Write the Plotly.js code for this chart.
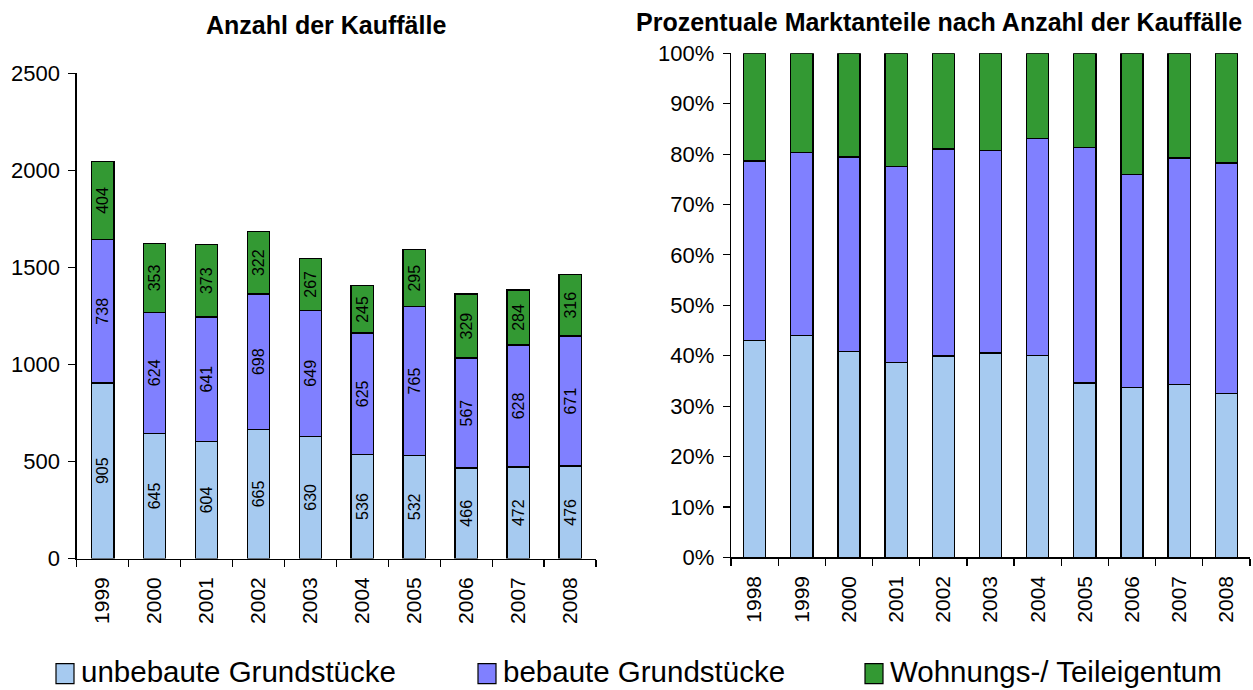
<!DOCTYPE html>
<html>
<head>
<meta charset="utf-8">
<script src="https://cdn.plot.ly/plotly-3.0.1.min.js"></script>
<style>
html,body{margin:0;padding:0;background:#fff;}
#chart{width:1253px;height:690px;}
</style>
</head>
<body>
<div id="chart"></div>
<script>
// ---- data ----
const yearsLeft = ['1999','2000','2001','2002','2003','2004','2005','2006','2007','2008'];
const unbebaut = [905, 645, 604, 665, 630, 536, 532, 466, 472, 476];
const bebaut   = [738, 624, 641, 698, 649, 625, 765, 567, 628, 671];
const wohnung  = [404, 353, 373, 322, 267, 245, 295, 329, 284, 316];

const yearsRight = ['1998','1999','2000','2001','2002','2003','2004','2005','2006','2007','2008'];
const pctUnbebaut = [43.0, 44.0, 40.8, 38.6, 39.9, 40.5, 40.0, 34.6, 33.7, 34.3, 32.5];
const pctBebaut   = [35.6, 36.3, 38.6, 39.0, 41.1, 40.2, 43.1, 46.7, 42.3, 44.9, 45.7];
const pctWohnung  = [21.4, 19.7, 20.6, 22.4, 19.0, 19.3, 16.9, 18.7, 24.0, 20.8, 21.8];

const seriesNames = ['unbebaute Grundstücke', 'bebaute Grundstücke', 'Wohnungs-/ Teileigentum'];
const titleLeft = 'Anzahl der Kauffälle';
const titleRight = 'Prozentuale Marktanteile nach Anzahl der Kauffälle';

// ---- styles ----
const colors = ['#A6CAF0', '#8080FF', '#339933'];
const W = 1253, H = 690;
const FONT = 'Liberation Sans, Arial, Helvetica, sans-serif';
const line = {color: '#000', width: 1.4};

const leftVals = [unbebaut, bebaut, wohnung];
const rightVals = [pctUnbebaut, pctBebaut, pctWohnung];
const legendIds = ['legend', 'legend2', 'legend3'];

const traces = [];
leftVals.forEach((v, i) => {
  traces.push({
    type: 'bar', x: yearsLeft, y: v, name: seriesNames[i],
    xaxis: 'x', yaxis: 'y', width: 0.43,
    marker: {color: colors[i], line: line},
    text: v.map(String), textposition: 'inside', insidetextanchor: 'middle',
    textangle: -90, textfont: {size: 16, color: '#000', family: FONT},
    constraintext: 'none',
    legend: legendIds[i], showlegend: true, hoverinfo: 'x+y+name'
  });
});
rightVals.forEach((v, i) => {
  traces.push({
    type: 'bar', x: yearsRight, y: v, name: seriesNames[i],
    xaxis: 'x2', yaxis: 'y2', width: 0.47,
    marker: {color: colors[i], line: line},
    showlegend: false, hoverinfo: 'x+y+name'
  });
});

const axCommon = {
  showline: true, linecolor: '#000', linewidth: 1.3,
  ticks: 'outside', ticklen: 7, tickcolor: '#000', tickwidth: 1.2,
  showgrid: false, zeroline: false,
  tickfont: {size: 22, color: '#000', family: FONT}, fixedrange: true
};
const xCommon = Object.assign({}, axCommon, {
  type: 'category', tickson: 'boundaries', tickangle: -90,
  automargin: false, ticklabelstandoff: 9,
  tickfont: {size: 21, color: '#000', family: FONT}
});
const yCommon = Object.assign({}, axCommon, {
  automargin: false, ticklabelstandoff: 4, tick0: 0
});

const legendCommon = {
  orientation: 'h', xanchor: 'left', yanchor: 'middle',
  bgcolor: 'rgba(0,0,0,0)', borderwidth: 0,
  font: {size: 29.5, color: '#000', family: FONT}
};

const layout = {
  width: W, height: H,
  margin: {l: 0, r: 0, t: 0, b: 0, autoexpand: false},
  paper_bgcolor: '#fff', plot_bgcolor: 'rgba(0,0,0,0)',
  font: {family: FONT, color: '#000'},
  barmode: 'stack',
  xaxis: Object.assign({}, xCommon, {domain: [76.7 / W, 596 / W], anchor: 'y'}),
  yaxis: Object.assign({}, yCommon, {
    domain: [1 - 558.5 / H, 1 - 73.3 / H], anchor: 'x', range: [0, 2500], dtick: 500
  }),
  xaxis2: Object.assign({}, xCommon, {domain: [731 / W, 1250 / W], anchor: 'y2'}),
  yaxis2: Object.assign({}, yCommon, {
    domain: [1 - 557.3 / H, 1 - 53.3 / H], anchor: 'x2', range: [0, 100], dtick: 10,
    ticksuffix: '%'
  }),
  legend: Object.assign({}, legendCommon, {x: 41 / W, y: 1 - 671 / H}),
  legend2: Object.assign({}, legendCommon, {x: 463 / W, y: 1 - 671 / H}),
  legend3: Object.assign({}, legendCommon, {x: 850 / W, y: 1 - 671 / H}),
  annotations: [
    {text: '<b>' + titleLeft + '</b>', xref: 'paper', yref: 'paper',
     x: 326 / W, y: 1 - 25 / H, xanchor: 'center', yanchor: 'middle',
     showarrow: false, font: {size: 25, color: '#000', family: FONT}},
    {text: '<b>' + titleRight + '</b>', xref: 'paper', yref: 'paper',
     x: 939 / W, y: 1 - 22 / H, xanchor: 'center', yanchor: 'middle',
     showarrow: false, font: {size: 25, color: '#000', family: FONT}}
  ]
};

Plotly.newPlot('chart', traces, layout, {displayModeBar: false, staticPlot: true}).then(() => {
  document.querySelectorAll('g.legendpoints path').forEach(p => {
    p.setAttribute('d', 'M9,10H-9V-10H9Z');
    p.setAttribute('transform', 'translate(24,3)');
    p.style.strokeWidth = '1.2px';
    p.style.stroke = '#000';
  });
});
</script>
</body>
</html>
